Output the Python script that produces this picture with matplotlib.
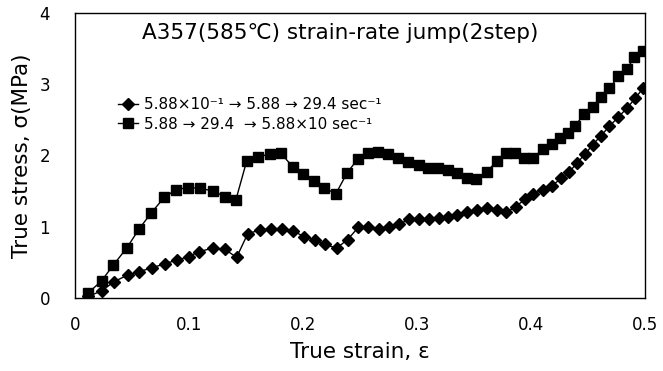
import matplotlib
matplotlib.use("Agg")
import matplotlib.pyplot as plt

plt.rcParams['font.family'] = ['DejaVu Sans', 'Noto Sans CJK KR']

# Series 1 (diamonds): 5.88x10^-1 -> 5.88 -> 29.4 sec^-1
strain_d = [0.0117, 0.0234, 0.0345, 0.0462, 0.0564, 0.0673, 0.0789, 0.0892, 0.1000, 0.1088,
            0.1213, 0.1316, 0.1418, 0.1515, 0.1623, 0.1719, 0.1818, 0.1915, 0.2009, 0.2105,
            0.2189, 0.2296, 0.2392, 0.2485, 0.2573, 0.2669, 0.2757, 0.2845, 0.2932, 0.3020,
            0.3108, 0.3196, 0.3275, 0.3354, 0.3436, 0.3524, 0.3611, 0.3699, 0.3781, 0.3868,
            0.3947, 0.4020, 0.4101, 0.4182, 0.4263, 0.4336, 0.4401, 0.4474, 0.4541, 0.4614,
            0.4687, 0.4766, 0.4839, 0.4912, 0.4985]
stress_d = [0.02, 0.10, 0.23, 0.32, 0.37, 0.42, 0.48, 0.53, 0.58, 0.65,
            0.70, 0.68, 0.57, 0.90, 0.955, 0.965, 0.97, 0.94, 0.86, 0.81,
            0.75, 0.70, 0.82, 0.99, 0.99, 0.97, 0.99, 1.035, 1.105, 1.105,
            1.105, 1.12, 1.14, 1.17, 1.20, 1.24, 1.26, 1.24, 1.20, 1.28,
            1.39, 1.46, 1.52, 1.57, 1.68, 1.77, 1.89, 2.02, 2.15, 2.28,
            2.41, 2.54, 2.66, 2.80, 2.95]

# Series 2 (squares): 5.88 -> 29.4 -> 5.88x10 sec^-1
strain_s = [0.0117, 0.0234, 0.0336, 0.0454, 0.0564, 0.0667, 0.0783, 0.0886, 0.0994, 0.1096,
            0.1213, 0.1316, 0.1412, 0.1506, 0.1608, 0.1711, 0.1807, 0.1910, 0.2003, 0.2099,
            0.2184, 0.2287, 0.2389, 0.2480, 0.2568, 0.2661, 0.2748, 0.2836, 0.2924, 0.3020,
            0.3099, 0.3187, 0.3275, 0.3354, 0.3436, 0.3518, 0.3611, 0.3699, 0.3781, 0.3860,
            0.3941, 0.4020, 0.4101, 0.4182, 0.4254, 0.4322, 0.4386, 0.4468, 0.4541, 0.4614,
            0.4687, 0.4766, 0.4839, 0.4906, 0.4985]
stress_s = [0.07, 0.24, 0.46, 0.70, 0.97, 1.19, 1.41, 1.52, 1.55, 1.54,
            1.50, 1.42, 1.38, 1.92, 1.98, 2.02, 2.03, 1.84, 1.74, 1.64,
            1.55, 1.46, 1.76, 1.95, 2.03, 2.05, 2.02, 1.96, 1.91, 1.87,
            1.83, 1.82, 1.80, 1.76, 1.69, 1.67, 1.77, 1.92, 2.04, 2.04,
            1.97, 1.96, 2.09, 2.16, 2.24, 2.31, 2.42, 2.58, 2.68, 2.82,
            2.94, 3.11, 3.21, 3.38, 3.47]

label_d = "5.88\u00d710\u207b\u00b9 \u2192 5.88 \u2192 29.4 sec\u207b\u00b9"
label_s = "5.88 \u2192 29.4  \u2192 5.88\u00d710 sec\u207b\u00b9"
title = "A357(585\u2103) strain-rate jump(2step)"
xticks = [0, 0.1, 0.2, 0.3, 0.4, 0.5]
xticklabels = ["0", "0.1", "0.2", "0.3", "0.4", "0.5"]
yticks = [0, 1, 2, 3, 4]

fig = plt.figure(figsize=(6.63, 3.71), dpi=100)
ax = fig.add_axes([0.113, 0.197, 0.860, 0.768])

ax.plot(strain_d, stress_d, color='black', lw=1.0, marker='D', ms=6.5, label=label_d)
ax.plot(strain_s, stress_s, color='black', lw=1.0, marker='s', ms=7, label=label_s)

ax.set_xlim(0, 0.5)
ax.set_ylim(0, 4)
ax.set_xticks(xticks)
ax.set_xticklabels(xticklabels)
ax.set_yticks(yticks)
ax.tick_params(length=0, labelsize=12)
ax.tick_params(axis='x', pad=13)
ax.tick_params(axis='y', pad=18)
for s in ax.spines.values():
    s.set_linewidth(1.0)

ax.set_xlabel("True strain, \u03b5", fontsize=15.5)
ax.set_ylabel("True stress, \u03c3(MPa)", fontsize=15.5)
ax.xaxis.set_label_coords(0.5, -0.155)
ax.yaxis.set_label_coords(-0.075, 0.5)

ax.text(0.465, 0.93, title, transform=ax.transAxes, ha='center', va='center', fontsize=15.5)

leg = ax.legend(loc='upper left', bbox_to_anchor=(0.075, 0.705), frameon=False,
                fontsize=11, handlelength=1.3, handletextpad=0.45, labelspacing=0.3,
                borderpad=0, borderaxespad=0)
for h in leg.legend_handles:
    h.set_markersize(6.5)

fig.savefig("out.png", dpi=100)
